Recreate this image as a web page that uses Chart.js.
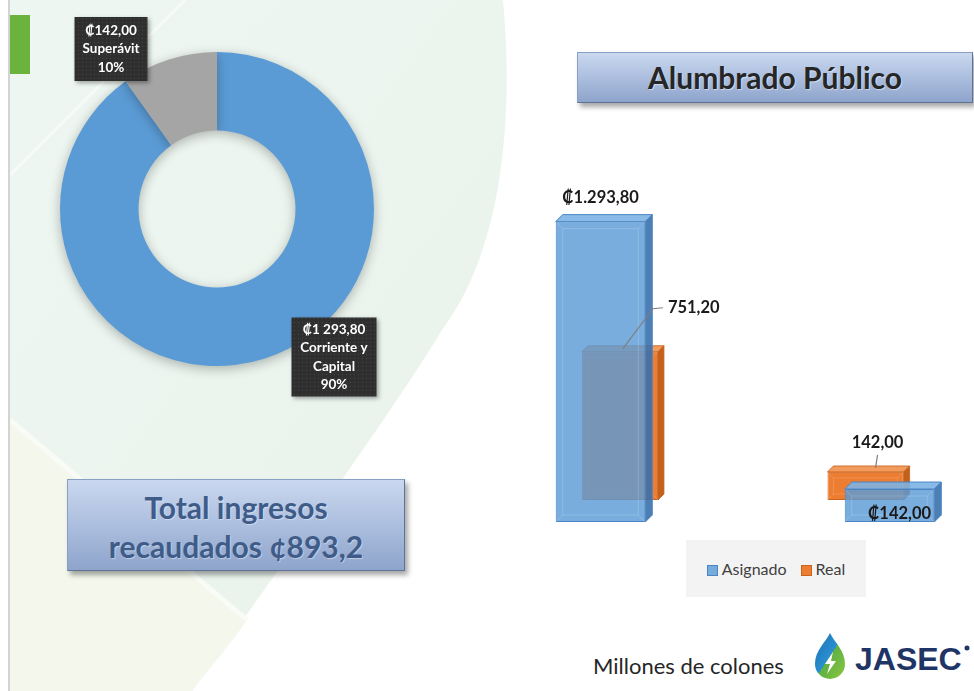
<!DOCTYPE html>
<html>
<head>
<meta charset="utf-8">
<script src="https://cdn.jsdelivr.net/npm/chart.js@4.4.0/dist/chart.umd.min.js"></script>
<style>
  html, body { margin: 0; padding: 0; width: 974px; height: 691px; overflow: hidden; background: #fff; }
  body { position: relative; font-family: Lato, 'DejaVu Sans', sans-serif; }
  .abs { position: absolute; }
  .caja {
    position: absolute; box-sizing: border-box; text-align: center; font-weight: bold;
    background: linear-gradient(#cad8ef, #a9bcdd 55%, #8ea4cb);
    border: 1px solid #8a9fc6; border-right-color: #5f7399; border-bottom-color: #5f7399;
    box-shadow: 3px 4px 5px rgba(0,0,0,0.35);
  }
  #tituloAP { left: 577px; top: 52px; width: 396px; height: 51px; line-height: 49px; font-size: 30px; color: #262626; text-shadow: 1px 1px 1px rgba(255,255,255,0.5); }
  #totalBox { left: 67px; top: 479px; width: 338px; height: 92px; padding-top: 8px; line-height: 39px; font-size: 30px; color: #3f5c89; text-shadow: 1px 1px 1px rgba(255,255,255,0.4); }
  #leyenda { left: 686px; top: 540px; width: 180px; height: 57px; background: #f3f3f3; display: flex; align-items: center; justify-content: center; gap: 14px; font-size: 16px; color: #404040; }
  #leyenda span.m { display: inline-block; width: 9px; height: 9px; margin-right: 4px; vertical-align: -1px; }
  #unidades { left: 593px; top: 652px; font-size: 22px; color: #262626; }
</style>
</head>
<body>
<svg class="abs" style="left:0;top:0" width="974" height="691">
  <defs>
    <linearGradient id="menta" x1="0" y1="0" x2="1" y2="1">
      <stop offset="0" stop-color="#eef6f1"/>
      <stop offset="1" stop-color="#e8f3eb"/>
    </linearGradient>
  </defs>
  <path d="M10,0 L503,0 C514,120 502,250 442,330 C400,400 300,540 192,691 L10,691 Z" fill="url(#menta)"/>
  <path d="M10,420 L247,620 C230,645 212,665 192,691 L10,691 Z" fill="#f4f8ec"/>
  <line x1="10" y1="420" x2="247" y2="620" stroke="#f8fbf6" stroke-width="5"/>
  <line x1="10" y1="175" x2="185" y2="0" stroke="#f7fbf8" stroke-width="3"/>
  <line x1="9" y1="0" x2="9" y2="691" stroke="#c4c4c4" stroke-width="1.5"/>
  <rect x="10" y="15" width="20" height="59" fill="#6cb33e"/>
</svg>

<canvas id="dona" class="abs" style="left:17px;top:9px" width="400" height="400"></canvas>

<div id="tituloAP" class="caja">Alumbrado Público</div>
<div id="totalBox" class="caja">Total ingresos<br>recaudados ¢893,2</div>

<canvas id="barras" class="abs" style="left:456px;top:170px" width="578" height="360"></canvas>
<div id="leyenda" class="abs"></div>

<div id="unidades" class="abs">Millones de colones</div>
<svg class="abs" style="left:812px;top:630px" width="162" height="56">
  <defs>
    <linearGradient id="gota" x1="0" y1="0" x2="1" y2="1">
      <stop offset="0" stop-color="#1b6fb5"/>
      <stop offset="0.5" stop-color="#2a8fd0"/>
      <stop offset="0.5" stop-color="#5fb043"/>
      <stop offset="1" stop-color="#8cc63f"/>
    </linearGradient>
  </defs>
  <path d="M18,3 C14,12 3,20 3,34 A15,15 0 0 0 33,34 C33,20 22,12 18,3 Z" fill="url(#gota)"/>
  <path d="M21,22 L13,34 L18,34 L15,44 L24,31 L19,31 Z" fill="#ffffff"/>
  <text x="43" y="40" font-family="'Liberation Sans', Arial, sans-serif" font-weight="bold" font-size="32" fill="#1f3566">JASEC</text>
  <circle cx="155" cy="18" r="2.5" fill="#1f3566"/>
</svg>

<script>
// Dona: composición de ingresos
const fuentes = [['Corriente y', 'Capital'], ['Superávit']];
const montosFuente = [1293.80, 142.00];
const coloresFuente = ['#5b9bd5', '#a5a5a5'];

// Barras: Alumbrado Público
const rubros = ['Corriente y Capital', 'Superávit'];
const series = ['Asignado', 'Real'];
const asignado = [1293.80, 142.00];
const real = [751.20, 142.00];
const yMax = 1430;

const fmt = (v, sep) => {
  const [e, d] = v.toFixed(2).split('.');
  return e.replace(/\B(?=(\d{3})+(?!\d))/g, sep) + ',' + d;
};

// ---------- dona ----------
const desplazEtiqueta = [{ dx: 117, dy: 148, w: 85, h: 79 }, { dx: -106, dy: -160, w: 73, h: 64 }];

const trama = (() => {
  const p = document.createElement('canvas');
  p.width = 4; p.height = 4;
  const c = p.getContext('2d');
  c.fillStyle = '#2f2f2f'; c.fillRect(0, 0, 4, 4);
  c.fillStyle = '#474747'; c.fillRect(1, 1, 1, 1);
  return p;
})();

const sombraDona = {
  id: 'sombraDona',
  beforeDatasetDraw(chart) {
    const c = chart.ctx;
    c.save();
    c.shadowColor = 'rgba(0,0,0,0.28)';
    c.shadowBlur = 12;
    c.shadowOffsetY = 3;
  },
  afterDatasetDraw(chart) { chart.ctx.restore(); }
};

const etiquetasDona = {
  id: 'etiquetasDona',
  afterDraw(chart) {
    const c = chart.ctx;
    const total = montosFuente.reduce((a, b) => a + b, 0);
    chart.getDatasetMeta(0).data.forEach((arc, i) => {
      const o = desplazEtiqueta[i];
      const cx = arc.x + o.dx, cy = arc.y + o.dy;
      c.save();
      c.shadowColor = 'rgba(0,0,0,0.35)'; c.shadowBlur = 4; c.shadowOffsetX = 2; c.shadowOffsetY = 2;
      c.fillStyle = c.createPattern(trama, 'repeat');
      c.fillRect(cx - o.w / 2, cy - o.h / 2, o.w, o.h);
      c.restore();
      const lineas = ['₡' + fmt(montosFuente[i], ' '), ...fuentes[i], Math.round(montosFuente[i] / total * 100) + '%'];
      c.save();
      c.fillStyle = '#ffffff';
      c.font = 'bold 13.5px Lato, "DejaVu Sans", sans-serif';
      c.textAlign = 'center'; c.textBaseline = 'middle';
      const lh = 18.5, y0 = cy - (lineas.length - 1) * lh / 2;
      lineas.forEach((t, k) => c.fillText(t, cx, y0 + k * lh));
      c.restore();
    });
  }
};

new Chart(document.getElementById('dona'), {
  type: 'doughnut',
  data: {
    labels: fuentes,
    datasets: [{
      data: montosFuente,
      backgroundColor: coloresFuente,
      borderWidth: 0,
      radius: 157
    }]
  },
  options: {
    responsive: false,
    animation: false,
    cutout: '50%',
    layout: { padding: 0 },
    plugins: { legend: { display: false }, tooltip: { enabled: false } }
  },
  plugins: [sombraDona, etiquetasDona]
});

// ---------- barras con efecto 3D ----------
const PROF = 7;
const ESCALA_FONDO = 0.85;
const FUGA = { x: 274, y: 205 };
const aFondo = (x, y) => ({ x: FUGA.x + ESCALA_FONDO * (x - FUGA.x), y: FUGA.y + ESCALA_FONDO * (y - FUGA.y) });

const caras = [
  { frente: 'rgba(91,155,213,0.82)', borde: '#4a86c5', arriba: 'rgba(125,178,228,0.9)', lado: 'rgba(58,112,172,0.9)', bisel: 'rgba(255,255,255,0.16)' },
  { frente: '#ed7d31', borde: '#c8641f', arriba: '#f29b5c', lado: '#c2601c', bisel: 'rgba(255,255,255,0.18)' }
];

const barras3d = {
  id: 'barras3d',
  beforeDatasetDraw(chart, args) {
    if (args.index !== 1) return;
    const c = chart.ctx;
    c.save();
    c.translate(FUGA.x, FUGA.y);
    c.scale(ESCALA_FONDO, ESCALA_FONDO);
    c.translate(-FUGA.x, -FUGA.y);
  },
  afterDatasetDraw(chart, args) {
    const c = chart.ctx;
    const k = caras[args.index];
    args.meta.data.forEach(el => {
      const { x, y, base, width } = el.getProps(['x', 'y', 'base', 'width'], true);
      const l = x - width / 2, r = x + width / 2;
      c.save();
      c.lineWidth = 1;
      c.strokeStyle = k.borde;
      c.beginPath();
      c.moveTo(l, y); c.lineTo(r, y); c.lineTo(r + PROF, y - PROF); c.lineTo(l + PROF, y - PROF); c.closePath();
      c.fillStyle = k.arriba; c.fill(); c.stroke();
      c.beginPath();
      c.moveTo(r, y); c.lineTo(r + PROF, y - PROF); c.lineTo(r + PROF, base - PROF); c.lineTo(r, base); c.closePath();
      c.fillStyle = k.lado; c.fill(); c.stroke();
      const ins = 7;
      c.strokeStyle = k.bisel;
      c.strokeRect(l + ins, y + ins, width - 2 * ins, base - y - 2 * ins);
      c.beginPath();
      c.moveTo(l, y); c.lineTo(l + ins, y + ins);
      c.moveTo(r, y); c.lineTo(r - ins, y + ins);
      c.moveTo(l, base); c.lineTo(l + ins, base - ins);
      c.moveTo(r, base); c.lineTo(r - ins, base - ins);
      c.stroke();
      c.restore();
    });
    if (args.index === 1) c.restore();
  }
};

const etiquetasBarras = {
  id: 'etiquetasBarras',
  afterDatasetsDraw(chart) {
    const c = chart.ctx;
    c.save();
    c.font = 'bold 16.5px Lato, "DejaVu Sans", sans-serif';
    c.fillStyle = '#1a1a1a';
    c.textBaseline = 'middle';
    const a = chart.getDatasetMeta(0).data;
    const b = chart.getDatasetMeta(1).data;
    // Asignado
    c.textAlign = 'center';
    c.fillText('₡' + fmt(asignado[0], '.'), a[0].x, a[0].y - PROF - 17);
    c.fillText('₡' + fmt(asignado[1], '.'), a[1].x + 10, (a[1].y + a[1].base) / 2 + 8);
    // Real (fila del fondo)
    c.strokeStyle = '#7f7f7f';
    c.lineWidth = 1.2;
    const p0 = aFondo(b[0].x + PROF / 2, b[0].y - PROF / 2);
    c.beginPath();
    c.moveTo(p0.x, p0.y); c.lineTo(p0.x + 30, p0.y - 40); c.lineTo(p0.x + 40, p0.y - 41);
    c.stroke();
    c.textAlign = 'left';
    c.fillText(fmt(real[0], '.'), p0.x + 45, p0.y - 41);
    const p1 = aFondo(b[1].x + PROF / 2, b[1].y - PROF / 2);
    c.beginPath();
    c.moveTo(p1.x + 7, p1.y - 1); c.lineTo(p1.x + 9, p1.y - 14);
    c.stroke();
    c.textAlign = 'center';
    c.fillText(fmt(real[1], '.'), p1.x + 9, p1.y - 26);
    c.restore();
  }
};

const barras = new Chart(document.getElementById('barras'), {
  type: 'bar',
  data: {
    labels: rubros,
    datasets: [
      { label: series[0], data: asignado, backgroundColor: caras[0].frente, borderColor: caras[0].borde },
      { label: series[1], data: real, backgroundColor: caras[1].frente, borderColor: caras[1].borde }
    ].map(d => Object.assign(d, { grouped: false, barPercentage: 0.31, categoryPercentage: 1, borderWidth: 1, borderSkipped: false, clip: false }))
  },
  options: {
    responsive: false,
    animation: false,
    layout: { padding: { top: 20, bottom: 8, left: 0, right: 0 } },
    scales: {
      x: { display: false },
      y: { display: false, min: 0, max: yMax }
    },
    plugins: { legend: { display: false }, tooltip: { enabled: false } }
  },
  plugins: [barras3d, etiquetasBarras]
});

// leyenda
document.getElementById('leyenda').innerHTML = barras.data.datasets.map(d =>
  '<div><span class="m" style="background:' + d.backgroundColor + ';border:1px solid ' + d.borderColor + '"></span>' + d.label + '</div>'
).join('');
</script>
</body>
</html>
